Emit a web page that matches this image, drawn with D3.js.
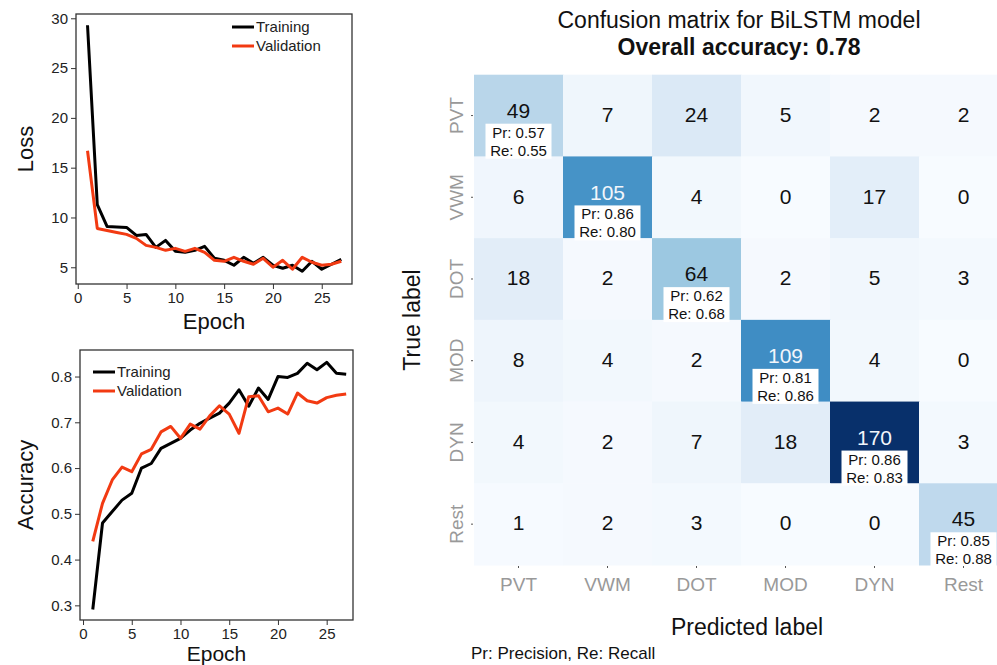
<!DOCTYPE html>
<html>
<head>
<meta charset="utf-8">
<script src="https://cdn.jsdelivr.net/npm/d3@7"></script>
<style>
  body { margin: 0; background: #fff; }
  svg { display: block; font-family: "Liberation Sans", Arial, sans-serif; }
</style>
</head>
<body>
<svg id="chart" width="997" height="665"></svg>
<script>
// training curves, one value per epoch (1..27)
const epochs = d3.range(1, 28);
const lossTrain = [29.3, 11.3, 9.1, 9.05, 9.0, 8.2, 8.3, 7.0, 7.7, 6.6, 6.5, 6.7, 7.1, 5.9, 5.7, 5.2, 6.0, 5.4, 6.0, 5.2, 4.9, 5.2, 4.6, 5.6, 4.8, 5.3, 5.8];
const lossVal = [16.7, 8.9, 8.7, 8.5, 8.3, 7.9, 7.2, 7.0, 6.7, 6.9, 6.6, 6.9, 6.5, 5.7, 5.6, 6.0, 5.6, 5.3, 5.9, 5.0, 5.7, 4.8, 6.0, 5.5, 5.2, 5.3, 5.6];
const accTrain = [0.291, 0.48, 0.505, 0.53, 0.545, 0.60, 0.61, 0.643, 0.654, 0.665, 0.683, 0.698, 0.709, 0.72, 0.742, 0.771, 0.735, 0.775, 0.75, 0.80, 0.798, 0.807, 0.829, 0.815, 0.831, 0.807, 0.805];
const accVal = [0.44, 0.523, 0.574, 0.602, 0.592, 0.631, 0.641, 0.679, 0.691, 0.665, 0.696, 0.685, 0.714, 0.736, 0.718, 0.676, 0.756, 0.758, 0.723, 0.731, 0.718, 0.764, 0.747, 0.742, 0.754, 0.759, 0.762];
const epochTicks = [0, 5, 10, 15, 20, 25];
const lossTicks = [5, 10, 15, 20, 25, 30];
const accTicks = [0.3, 0.4, 0.5, 0.6, 0.7, 0.8];
const seriesNames = ["Training", "Validation"];

// confusion matrix
const classes = ["PVT", "VWM", "DOT", "MOD", "DYN", "Rest"];
const matrix = [
  [49, 7, 24, 5, 2, 2],
  [6, 105, 4, 0, 17, 0],
  [18, 2, 64, 2, 5, 3],
  [8, 4, 2, 109, 4, 0],
  [4, 2, 7, 18, 170, 3],
  [1, 2, 3, 0, 0, 45]
];
const precision = ["0.57", "0.86", "0.62", "0.81", "0.86", "0.85"];
const recall = ["0.55", "0.80", "0.68", "0.86", "0.83", "0.88"];

const svg = d3.select("#chart");
const trainColor = "#000";
const valColor = "#f23a12";

// draws one of the small line charts on the left
function lineChart(opts) {
  const g = svg.append("g");
  const x = d3.scaleLinear().domain(opts.xDomain).range([opts.left, opts.right]);
  const y = d3.scaleLinear().domain(opts.yDomain).range([opts.bottom, opts.top]);

  g.append("g")
    .attr("transform", "translate(0," + opts.bottom + ")")
    .call(d3.axisBottom(x).tickValues(epochTicks).tickSize(5).tickPadding(3))
    .call((a) => a.select(".domain").remove())
    .call((a) => a.selectAll("text").attr("font-size", 15).attr("fill", "#222").attr("font-family", null))
    .call((a) => a.selectAll("line").attr("stroke", "#333"));

  g.append("g")
    .attr("transform", "translate(" + opts.left + ",0)")
    .call(d3.axisLeft(y).tickValues(opts.yTicks).tickSize(5).tickPadding(3).tickFormat(opts.fmt))
    .call((a) => a.select(".domain").remove())
    .call((a) => a.selectAll("text").attr("font-size", 15).attr("fill", "#222").attr("font-family", null))
    .call((a) => a.selectAll("line").attr("stroke", "#333"));

  const line = d3.line().x((d, i) => x(epochs[i])).y((d) => y(d));
  [opts.train, opts.val].forEach((s, i) => {
    g.append("path")
      .datum(s)
      .attr("d", line)
      .attr("fill", "none")
      .attr("stroke", i === 0 ? trainColor : valColor)
      .attr("stroke-width", 3)
      .attr("stroke-linejoin", "round");
  });

  g.append("rect")
    .attr("x", opts.left).attr("y", opts.top)
    .attr("width", opts.right - opts.left).attr("height", opts.bottom - opts.top)
    .attr("fill", "none").attr("stroke", "#333").attr("stroke-width", 1.3);

  // legend
  seriesNames.forEach((name, i) => {
    const ly = opts.legendY + i * 19;
    g.append("line")
      .attr("x1", opts.legendX).attr("x2", opts.legendX + 22)
      .attr("y1", ly).attr("y2", ly)
      .attr("stroke", i === 0 ? trainColor : valColor).attr("stroke-width", 3);
    g.append("text")
      .attr("x", opts.legendX + 24).attr("y", ly + 5)
      .attr("font-size", 15).attr("fill", "#222")
      .text(name);
  });

  g.append("text")
    .attr("transform", "translate(" + opts.yLabelX + "," + (opts.top + opts.bottom) / 2 + ") rotate(-90)")
    .attr("text-anchor", "middle").attr("dy", "0.35em")
    .attr("font-size", 22).attr("fill", "#111")
    .text(opts.yLabel);

  g.append("text")
    .attr("x", (opts.left + opts.right) / 2).attr("y", opts.xLabelY)
    .attr("text-anchor", "middle")
    .attr("font-size", opts.xLabelSize).attr("fill", "#111")
    .text("Epoch");
}

lineChart({
  left: 76, right: 352, top: 14, bottom: 284,
  xDomain: [-0.18, 28.1], yDomain: [3.32, 30.43],
  yTicks: lossTicks, fmt: d3.format("d"),
  train: lossTrain, val: lossVal,
  legendX: 232, legendY: 27,
  yLabel: "Loss", yLabelX: 25, xLabelY: 329, xLabelSize: 22
});

lineChart({
  left: 80, right: 353, top: 350, bottom: 620,
  xDomain: [-0.31, 27.7], yDomain: [0.268, 0.858],
  yTicks: accTicks, fmt: d3.format(".1f"),
  train: accTrain, val: accVal,
  legendX: 93, legendY: 372,
  yLabel: "Accuracy", yLabelX: 25, xLabelY: 661, xLabelSize: 21
});

// confusion matrix heatmap
const cm = svg.append("g");
const xb = d3.scaleBand().domain(classes).range([474, 1008]);
const yb = d3.scaleBand().domain(classes).range([74.7, 565]);
const color = d3.scaleSequential(d3.interpolateBlues).domain([0, 170]);

const cells = [];
matrix.forEach((row, r) => row.forEach((v, c) => cells.push({ r: classes[r], c: classes[c], v: v, diag: r === c, i: r })));

cm.selectAll("rect.cell")
  .data(cells)
  .join("rect")
  .attr("class", "cell")
  .attr("x", (d) => xb(d.c))
  .attr("y", (d) => yb(d.r))
  .attr("width", xb.bandwidth() + 0.5)
  .attr("height", yb.bandwidth() + 0.5)
  .attr("fill", (d) => color(d.v));

cm.selectAll("text.val")
  .data(cells)
  .join("text")
  .attr("class", "val")
  .attr("x", (d) => xb(d.c) + xb.bandwidth() / 2)
  .attr("y", (d) => yb(d.r) + yb.bandwidth() / 2 - (d.diag ? 5 : 1))
  .attr("dy", "0.35em")
  .attr("text-anchor", "middle")
  .attr("font-size", 21)
  .attr("fill", (d) => (d.v > 85 ? "#f2f6fb" : "#111"))
  .text((d) => d.v);

// precision / recall boxes on the diagonal
const diag = cells.filter((d) => d.diag);
const boxes = cm.selectAll("g.pr").data(diag).join("g").attr("class", "pr")
  .attr("transform", (d) => "translate(" + (xb(d.c) + xb.bandwidth() / 2) + "," + (yb(d.r) + 49) + ")");
boxes.append("rect")
  .attr("x", -33).attr("y", 0).attr("width", 66).attr("height", 35)
  .attr("fill", "#fff");
boxes.append("text")
  .attr("y", 14).attr("text-anchor", "middle").attr("font-size", 15).attr("fill", "#111")
  .text((d) => "Pr: " + precision[d.i]);
boxes.append("text")
  .attr("y", 32).attr("text-anchor", "middle").attr("font-size", 15).attr("fill", "#111")
  .text((d) => "Re: " + recall[d.i]);

// axes of the matrix
cm.append("g")
  .attr("transform", "translate(473,0)")
  .call(d3.axisLeft(yb).tickSize(2).tickFormat(""))
  .call((a) => a.select(".domain").remove())
  .call((a) => a.selectAll("line").attr("stroke", "#555"));
cm.selectAll("text.rowlab")
  .data(classes)
  .join("text")
  .attr("class", "rowlab")
  .attr("transform", (d) => "translate(456," + (yb(d) + yb.bandwidth() / 2) + ") rotate(-90)")
  .attr("text-anchor", "middle").attr("dy", "0.35em")
  .attr("font-size", 19).attr("fill", "#999")
  .text((d) => d);

cm.append("g")
  .attr("transform", "translate(0,566)")
  .call(d3.axisBottom(xb).tickSize(2).tickPadding(6))
  .call((a) => a.select(".domain").remove())
  .call((a) => a.selectAll("line").attr("stroke", "#555"))
  .call((a) => a.selectAll("text").attr("font-size", 19).attr("fill", "#999").attr("font-family", null).attr("dy", "0.9em"));

// titles
const cx = 739;
svg.append("text").attr("x", cx).attr("y", 28).attr("text-anchor", "middle")
  .attr("font-size", 23).attr("fill", "#111").text("Confusion matrix for BiLSTM model");
svg.append("text").attr("x", cx).attr("y", 55).attr("text-anchor", "middle")
  .attr("font-size", 23).attr("font-weight", "bold").attr("fill", "#111").text("Overall accuracy: 0.78");

svg.append("text")
  .attr("transform", "translate(412,320) rotate(-90)")
  .attr("text-anchor", "middle").attr("dy", "0.35em")
  .attr("font-size", 23).attr("fill", "#111").text("True label");

svg.append("text").attr("x", cx + 8).attr("y", 635).attr("text-anchor", "middle")
  .attr("font-size", 23).attr("fill", "#111").text("Predicted label");

svg.append("text").attr("x", 471).attr("y", 659)
  .attr("font-size", 17).attr("fill", "#111").text("Pr: Precision, Re: Recall");
</script>
</body>
</html>
